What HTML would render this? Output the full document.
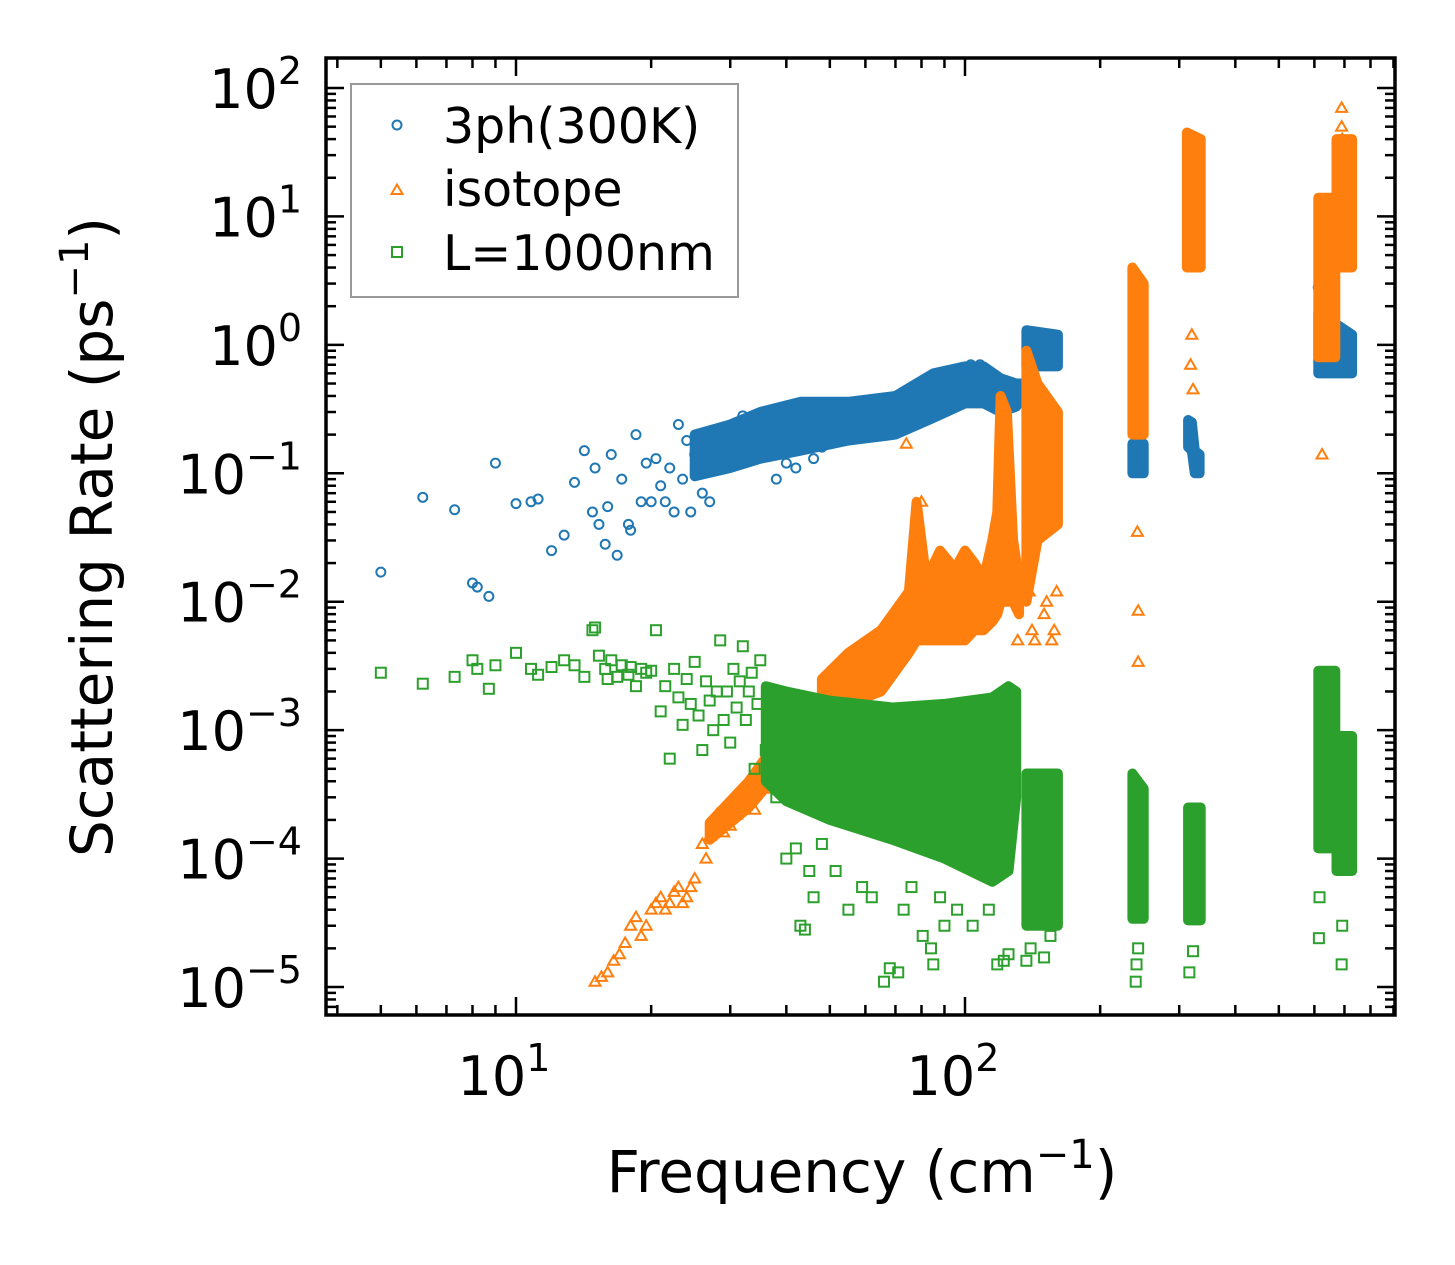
<!DOCTYPE html>
<html><head><meta charset="utf-8">
<style>
html,body{margin:0;padding:0;background:#fff;}
svg{display:block;font-family:"DejaVu Sans","Liberation Sans",sans-serif;}
</style></head>
<body>
<svg id="chart" width="1455" height="1265" viewBox="0 0 1455 1265" xmlns="http://www.w3.org/2000/svg">
<rect x="0" y="0" width="1455" height="1265" fill="#fff"/>
<g id="marks"></g>
<g id="axes"></g>
<text x="862" y="1192" font-size="58" text-anchor="middle">Frequency (cm<tspan font-size="40" dy="-24">−1</tspan><tspan dy="24">)</tspan></text>
<text transform="translate(112,537) rotate(-90)" font-size="58" text-anchor="middle">Scattering Rate (ps<tspan font-size="40" dy="-24">−1</tspan><tspan dy="24">)</tspan></text>
<g>
<rect x="351" y="84" width="387" height="213" fill="#fff" stroke="#999" stroke-width="2"/>
<circle cx="397" cy="125" r="4.5" fill="none" stroke="#1f77b4" stroke-width="2"/>
<text x="443" y="143" font-size="49">3ph(300K)</text>
<path d="M391.5,194 L397,184.5 L402.5,194 Z" fill="none" stroke="#ff7f0e" stroke-width="2"/>
<text x="443" y="206" font-size="49">isotope</text>
<rect x="392" y="247" width="10" height="10" fill="none" stroke="#2ca02c" stroke-width="2"/>
<text x="443" y="270" font-size="49">L=1000nm</text>
</g>
</svg>
<script>
// ---- data (frequency cm^-1, rate ps^-1) ----
const xTickValues = [10, 100];
const xTickLabels = ["1", "2"];
const yTickValues = [1e2, 1e1, 1e0, 1e-1, 1e-2, 1e-3, 1e-4, 1e-5];
const yTickLabels = ["2", "1", "0", "−1", "−2", "−3", "−4", "−5"];

// dense clusters: [freq, lowRate, highRate]
const phonon3Bands = [
 [[25,0.095,0.2],[30,0.11,0.24],[35,0.13,0.3],[43,0.15,0.36],[55,0.18,0.36],[70,0.2,0.4],[85,0.27,0.6],[100,0.35,0.68],[110,0.35,0.68],[120,0.3,0.55],[130,0.33,0.5],[135,0.4,0.5]],
 [[137,0.68,1.3],[161,0.68,1.2]],
 [[236,0.1,0.17],[250,0.1,0.17]],
 [[314,0.16,0.26],[320,0.15,0.25],[325,0.1,0.15],[333,0.1,0.14]],
 [[612,0.6,1.8],[728,0.6,1.2]]
];
const isotopeBands = [
 [[27,1.4e-4,1.9e-4],[33,2.5e-4,4e-4],[38,4.5e-4,8e-4]],
 [[48,1.5e-3,2.5e-3],[55,1.6e-3,4e-3],[65,2e-3,6e-3],[75,4e-3,0.012],[78,5e-3,0.06],[82,5e-3,0.015],[88,5e-3,0.025],[95,5e-3,0.018],[100,5e-3,0.025],[105,6e-3,0.02],[110,6e-3,0.015],[115,7e-3,0.03],[118,0.008,0.05],[120,0.01,0.4],[124,0.01,0.3],[128,0.01,0.03],[132,0.008,0.015]],
 [[137,0.01,0.9],[145,0.03,0.5],[161,0.04,0.3]],
 [[236,0.2,4],[250,0.2,3]],
 [[312,4,45],[335,4,40]],
 [[612,0.8,14],[668,0.8,14]],
 [[672,4,40],[728,4,40]]
];
const boundaryBands = [
 [[36,4e-4,2.2e-3],[40,2.8e-4,2e-3],[50,2e-4,1.7e-3],[69,1.4e-4,1.5e-3],[90,1e-4,1.6e-3],[115,6.6e-5,1.8e-3],[125,8e-5,2.2e-3],[130,3e-4,2e-3]],
 [[137,3e-5,4.6e-4],[161,3e-5,4.6e-4]],
 [[236,3.4e-5,4.6e-4],[250,3.4e-5,3.5e-4]],
 [[314,3.3e-5,2.5e-4],[335,3.3e-5,2.5e-4]],
 [[612,1.2e-4,2.9e-3],[668,1.2e-4,2.9e-3]],
 [[672,8e-5,9e-4],[728,8e-5,9e-4]]
];

const phonon3 = [[5,0.017],[6.2,0.065],[7.3,0.052],[8,0.014],[8.2,0.013],[8.7,0.011],[9,0.12],[10,0.058],[10.8,0.06],[11.2,0.063],[12,0.025],[12.8,0.033],[13.5,0.085],[14.2,0.15],[14.8,0.05],[15,0.11],[15.3,0.04],[15.8,0.028],[16,0.055],[16.3,0.14],[16.8,0.023],[17.2,0.09],[17.8,0.04],[18,0.036],[18.5,0.2],[19,0.06],[19.5,0.12],[20,0.06],[20.5,0.13],[21,0.08],[21.5,0.06],[22,0.11],[22.5,0.05],[23,0.24],[23.5,0.09],[24,0.18],[24.5,0.05],[25,0.14],[26,0.07],[27,0.06],[28,0.2],[30,0.22],[32,0.28],[46,0.13],[37,0.3],[40,0.12],[42,0.11],[38,0.09],[48,0.16],[98,0.62],[103,0.7],[108,0.7],[612,2.8]];

const isotope = [[15,1.1e-5],[15.5,1.2e-5],[16,1.3e-5],[16.5,1.6e-5],[17,1.8e-5],[17.5,2.2e-5],[18,3e-5],[18.5,3.5e-5],[19,2.5e-5],[19.5,3e-5],[20,4e-5],[20.5,4.5e-5],[21,5e-5],[21.5,4e-5],[22,4.5e-5],[22.5,5.5e-5],[23,6e-5],[23.5,4.5e-5],[24,5e-5],[24.5,6e-5],[25,7e-5],[26,1.3e-4],[26.5,1e-4],[27,1.5e-4],[28,2.2e-4],[29,1.6e-4],[30,1.8e-4],[31,2.2e-4],[32,3e-4],[34,2.4e-4],[35,4.5e-4],[36,5e-4],[37,3.5e-4],[39,8e-4],[40,9e-4],[42,1.1e-3],[44,1.3e-3],[45,1.4e-3],[47,1.2e-3],[74,0.17],[80,0.06],[139,0.012],[141,0.006],[143,0.005],[150,0.008],[152,0.01],[156,0.005],[158,0.006],[160,0.012],[131,0.005],[242,0.035],[243,0.0085],[243,0.0034],[320,1.2],[318,0.7],[322,0.45],[624,0.14],[690,70],[690,50],[692,40]];

const boundary = [[5,2.8e-3],[6.2,2.3e-3],[7.3,2.6e-3],[8,3.5e-3],[8.2,3e-3],[8.7,2.1e-3],[9,3.2e-3],[10,4e-3],[10.8,3e-3],[11.2,2.7e-3],[12,3.1e-3],[12.8,3.5e-3],[13.5,3.2e-3],[14.2,2.6e-3],[14.8,6e-3],[15,6.3e-3],[15.3,3.8e-3],[15.8,3e-3],[16,2.5e-3],[16.3,3.5e-3],[16.8,2.6e-3],[17.2,3.2e-3],[17.8,2.7e-3],[18,3.1e-3],[18.5,2.2e-3],[19,3e-3],[19.5,2.8e-3],[20,2.9e-3],[20.5,6e-3],[21,1.4e-3],[21.5,2.2e-3],[22,6e-4],[22.5,3e-3],[23,1.8e-3],[23.5,1.1e-3],[24,2.5e-3],[24.5,1.6e-3],[25,3.4e-3],[25.5,1.3e-3],[26,7e-4],[26.5,2.4e-3],[27,1.7e-3],[27.5,1e-3],[28,2e-3],[28.5,5e-3],[29,1.2e-3],[29.5,2e-3],[30,8e-4],[30.5,3e-3],[31,1.5e-3],[31.5,2.4e-3],[32,4.5e-3],[32.5,1.2e-3],[33,2e-3],[33.5,2.8e-3],[34,5e-4],[34.5,1.6e-3],[35,3.5e-3],[36,7e-4],[37.5,4e-4],[38,3e-4],[40,1e-4],[42,1.2e-4],[43,3e-5],[44,2.8e-5],[45,8e-5],[46,5e-5],[48,1.3e-4],[51.5,8e-5],[55,4e-5],[59,6e-5],[62,5e-5],[66,1.1e-5],[68,1.4e-5],[71,1.3e-5],[73,4e-5],[76,6e-5],[80.5,2.5e-5],[84,2e-5],[85,1.5e-5],[88,5e-5],[90,3e-5],[96,4e-5],[104,3e-5],[113,4e-5],[118,1.5e-5],[122,1.6e-5],[125,1.8e-5],[137,1.6e-5],[140,2e-5],[150,1.7e-5],[155,2.5e-5],[240,1.1e-5],[241,1.5e-5],[243,2e-5],[316,1.3e-5],[322,1.9e-5],[614,2.4e-5],[616,5e-5],[690,1.5e-5],[692,3e-5]];

// ---- axes geometry ----
const L=326, R=1395, T=58, B=1015;
const X1=516, XDEC=449;
const Y2=88, YDEC=128.43;
function sx(v){return X1+(Math.log10(v)-1)*XDEC;}
function sy(v){return Y2-(Math.log10(v)-2)*YDEC;}

const NS="http://www.w3.org/2000/svg";
const marks=document.getElementById('marks');
const axes=document.getElementById('axes');
function mk(tag,attrs,parent){const e=document.createElementNS(NS,tag);for(const k in attrs)e.setAttribute(k,attrs[k]);parent.appendChild(e);return e;}

const defs=mk('defs',{},document.getElementById('chart'));
const cp=mk('clipPath',{id:'clip'},defs);
mk('rect',{x:L,y:T,width:R-L,height:B-T},cp);
marks.setAttribute('clip-path','url(#clip)');

function band(b,color,name){
  const up=b.map(p=>sx(p[0]).toFixed(1)+','+sy(p[2]).toFixed(1));
  const lo=b.slice().reverse().map(p=>sx(p[0]).toFixed(1)+','+sy(p[1]).toFixed(1));
  const pg=mk('polygon',{points:up.concat(lo).join(' '),fill:color,stroke:color,'stroke-width':10,'stroke-linejoin':'round'},marks);
  
  
}
function circles(arr){arr.forEach(p=>{
  const c=mk('circle',{cx:sx(p[0]),cy:sy(p[1]),r:4.5,fill:'none',stroke:'#1f77b4','stroke-width':2},marks);
  
  
});}
function tris(arr){arr.forEach(p=>{
  const x=sx(p[0]),y=sy(p[1]);
  const t=mk('path',{d:`M${x-5.5},${y+4} L${x},${y-5.5} L${x+5.5},${y+4} Z`,fill:'none',stroke:'#ff7f0e','stroke-width':2},marks);
  
  
});}
function squares(arr){arr.forEach(p=>{
  const x=sx(p[0]),y=sy(p[1]);
  const s=mk('rect',{x:x-5,y:y-5,width:10,height:10,fill:'none',stroke:'#2ca02c','stroke-width':2},marks);
  
  
});}

phonon3Bands.forEach(b=>band(b,'#1f77b4','cluster-3ph'));
circles(phonon3);
isotopeBands.forEach(b=>band(b,'#ff7f0e','cluster-isotope'));
tris(isotope);
boundaryBands.forEach(b=>band(b,'#2ca02c','cluster-boundary'));
squares(boundary);

const frame=mk('rect',{x:L,y:T,width:R-L,height:B-T,fill:'none',stroke:'#000','stroke-width':3.5},axes);



for(let d=0; d<=2; d++){
  for(let m=1;m<=9;m++){
    const v=m*Math.pow(10,d);
    const x=sx(v);
    if(x<L||x>R) continue;
    const len=m===1?18:10;
    const t1=mk('line',{x1:x,y1:B,x2:x,y2:B-len,stroke:'#000','stroke-width':2.5},axes);
    
    
    const t2=mk('line',{x1:x,y1:T,x2:x,y2:T+len,stroke:'#000','stroke-width':2.5},axes);
    
    
  }
}
for(let d=-6; d<=2; d++){
  for(let m=1;m<=9;m++){
    const v=m*Math.pow(10,d);
    const y=sy(v);
    if(y<T||y>B) continue;
    const len=m===1?18:10;
    const t1=mk('line',{x1:L,y1:y,x2:L+len,y2:y,stroke:'#000','stroke-width':2.5},axes);
    
    
    const t2=mk('line',{x1:R,y1:y,x2:R-len,y2:y,stroke:'#000','stroke-width':2.5},axes);
    
    
  }
}
xTickValues.forEach((v,i)=>{
  const t=mk('text',{x:sx(v)-12,y:1095,'font-size':54,'text-anchor':'middle'},axes);
  
  
  t.appendChild(document.createTextNode('10'));
  const s=mk('tspan',{'font-size':38,dy:-24},t);
  s.textContent=xTickLabels[i];
});
yTickValues.forEach((v,i)=>{
  const t=mk('text',{x:302,y:sy(v)+20,'font-size':54,'text-anchor':'end'},axes);
  
  
  t.appendChild(document.createTextNode('10'));
  const s=mk('tspan',{'font-size':38,dy:-24},t);
  s.textContent=yTickLabels[i];
});
</script>
</body></html>
